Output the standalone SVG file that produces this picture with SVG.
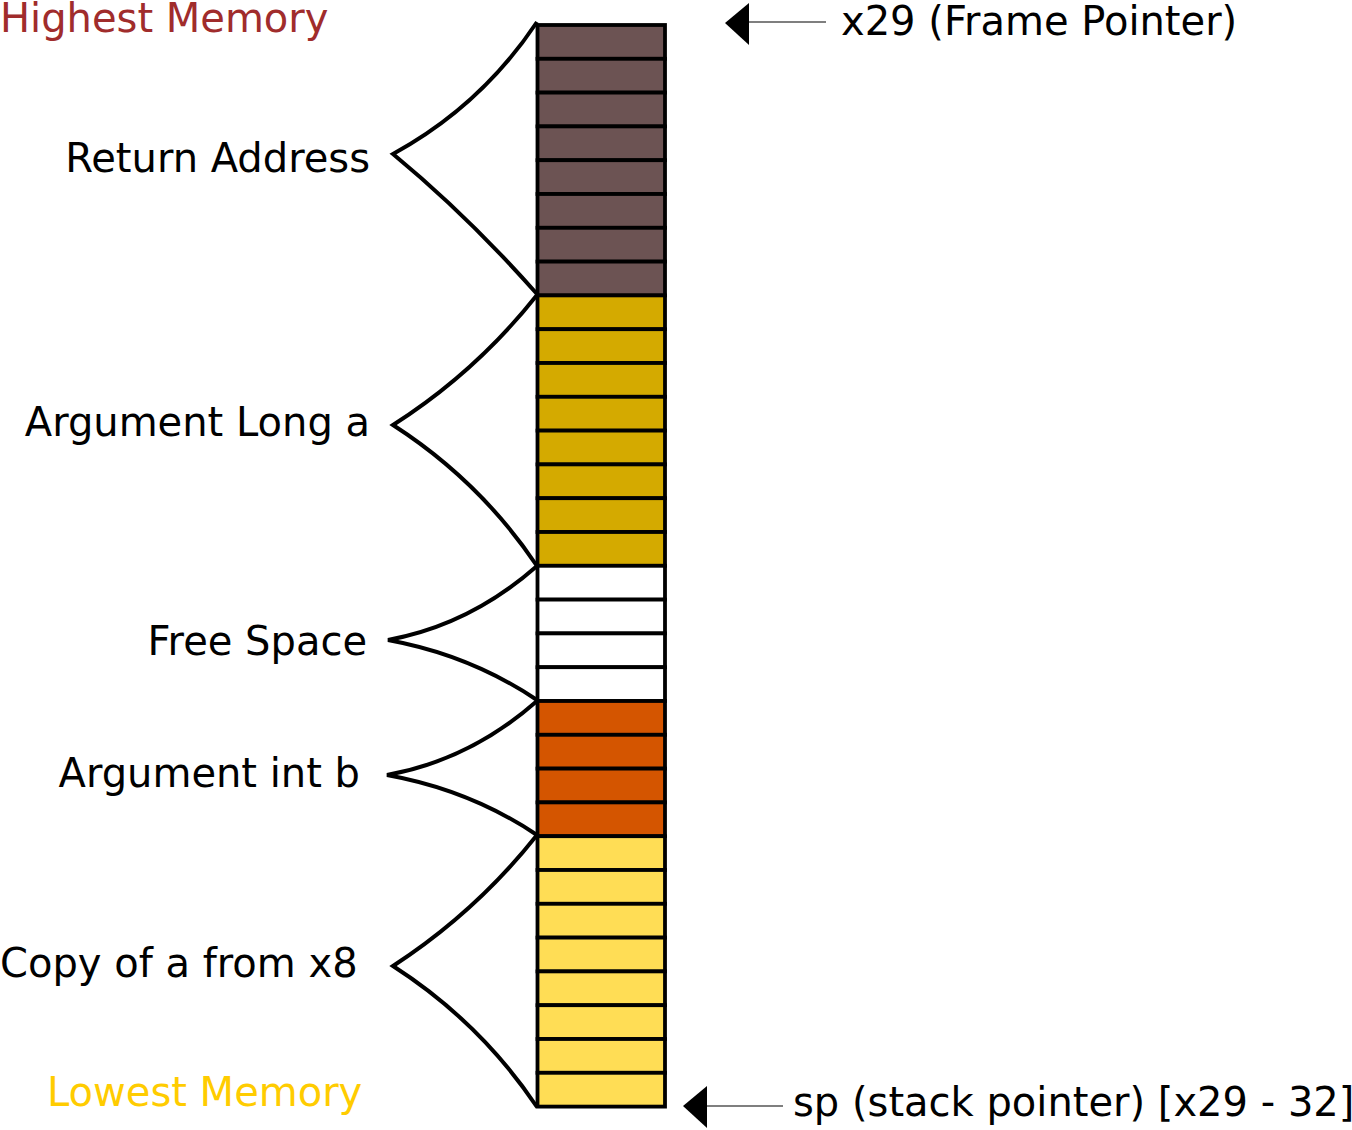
<svg xmlns="http://www.w3.org/2000/svg" width="1352" height="1130" viewBox="0 0 1352 1130">
<style>
text{font-family:"DejaVu Sans","Liberation Sans",sans-serif;font-size:40px;fill:#000}
.c{stroke:#000;stroke-width:3.8}
.br{fill:none;stroke:#000;stroke-width:4;stroke-linejoin:miter}
.ra{fill:#6c5353}.la{fill:#d4aa00}.fs{fill:#fff}.ib{fill:#d45500}.cp{fill:#ffdd55}
</style>
<rect width="1352" height="1130" fill="#fff"/>
<g id="stack">
<g id="return-address-cells" class="ra">
<rect class="c" x="537.5" y="25" width="127.5" height="33.8"/>
<rect class="c" x="537.5" y="58.8" width="127.5" height="33.8"/>
<rect class="c" x="537.5" y="92.6" width="127.5" height="33.8"/>
<rect class="c" x="537.5" y="126.4" width="127.5" height="33.8"/>
<rect class="c" x="537.5" y="160.2" width="127.5" height="33.8"/>
<rect class="c" x="537.5" y="194" width="127.5" height="33.8"/>
<rect class="c" x="537.5" y="227.8" width="127.5" height="33.8"/>
<rect class="c" x="537.5" y="261.6" width="127.5" height="33.8"/>
</g>
<g id="long-a-cells" class="la">
<rect class="c" x="537.5" y="295.4" width="127.5" height="33.8"/>
<rect class="c" x="537.5" y="329.2" width="127.5" height="33.8"/>
<rect class="c" x="537.5" y="363" width="127.5" height="33.8"/>
<rect class="c" x="537.5" y="396.8" width="127.5" height="33.8"/>
<rect class="c" x="537.5" y="430.6" width="127.5" height="33.8"/>
<rect class="c" x="537.5" y="464.4" width="127.5" height="33.8"/>
<rect class="c" x="537.5" y="498.2" width="127.5" height="33.8"/>
<rect class="c" x="537.5" y="532" width="127.5" height="33.8"/>
</g>
<g id="free-space-cells" class="fs">
<rect class="c" x="537.5" y="565.8" width="127.5" height="33.8"/>
<rect class="c" x="537.5" y="599.6" width="127.5" height="33.8"/>
<rect class="c" x="537.5" y="633.4" width="127.5" height="33.8"/>
<rect class="c" x="537.5" y="667.2" width="127.5" height="33.8"/>
</g>
<g id="int-b-cells" class="ib">
<rect class="c" x="537.5" y="701" width="127.5" height="33.8"/>
<rect class="c" x="537.5" y="734.8" width="127.5" height="33.8"/>
<rect class="c" x="537.5" y="768.6" width="127.5" height="33.8"/>
<rect class="c" x="537.5" y="802.4" width="127.5" height="33.8"/>
</g>
<g id="copy-a-cells" class="cp">
<rect class="c" x="537.5" y="836.2" width="127.5" height="33.8"/>
<rect class="c" x="537.5" y="870" width="127.5" height="33.8"/>
<rect class="c" x="537.5" y="903.8" width="127.5" height="33.8"/>
<rect class="c" x="537.5" y="937.6" width="127.5" height="33.8"/>
<rect class="c" x="537.5" y="971.4" width="127.5" height="33.8"/>
<rect class="c" x="537.5" y="1005.2" width="127.5" height="33.8"/>
<rect class="c" x="537.5" y="1039" width="127.5" height="33.8"/>
<rect class="c" x="537.5" y="1072.8" width="127.5" height="33.8"/>
</g>
</g>
<g id="connectors">
<path class="br" d="M537,22 Q481,106 393,154 Q468,216 537,294"/>
<path class="br" d="M537,295 Q476,372 393,425 Q480,481 537,566"/>
<path class="br" d="M537,566 Q470,625 388,640 Q470,655 537,700"/>
<path class="br" d="M537,701 Q470,760 387,775 Q470,790 537,835"/>
<path class="br" d="M537,835 Q476,912 393,966 Q480,1022 537,1107"/>
<line x1="748" y1="22" x2="826" y2="22" stroke="#000" stroke-width="1.2"/>
<polygon points="725,23 749,3 749,45" fill="#000"/>
<line x1="706" y1="1106" x2="783" y2="1106" stroke="#000" stroke-width="1.2"/>
<polygon points="683,1106 707,1086 707,1128" fill="#000"/>
</g>
<g id="labels">
<text id="highest" x="0" y="32" style="fill:#a02c2c">Highest Memory</text>
<text id="return-address" x="370" y="172" text-anchor="end">Return Address</text>
<text id="long-a" x="370" y="436" text-anchor="end">Argument Long a</text>
<text id="free-space" x="367" y="655" text-anchor="end">Free Space</text>
<text id="int-b" x="360" y="787" text-anchor="end">Argument int b</text>
<text id="copy-a" x="0" y="977">Copy of a from x8</text>
<text id="lowest" x="47" y="1106" style="fill:#ffcc00">Lowest Memory</text>
<text id="fp" x="841" y="35">x29 (Frame Pointer)</text>
<text id="sp" x="793" y="1116">sp (stack pointer) [x29 - 32]</text>
</g>
</svg>
